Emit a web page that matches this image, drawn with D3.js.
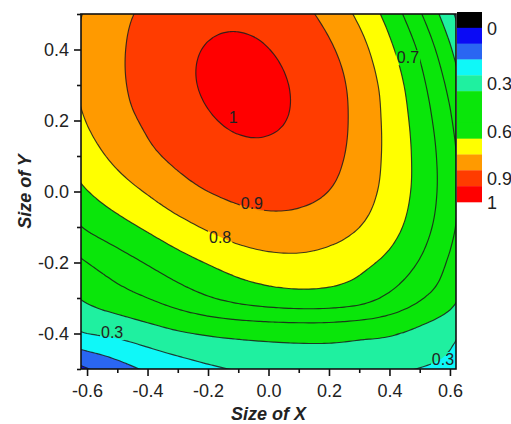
<!DOCTYPE html>
<html><head><meta charset="utf-8">
<script src="https://cdn.jsdelivr.net/npm/d3@7"></script>
<style>body{margin:0;background:#fff}svg{display:block}</style>
</head><body>
<svg id="chart" width="511" height="424"></svg>
<script>
// ---- data ----
const xValues = [-0.7,-0.6,-0.5,-0.4,-0.3,-0.2,-0.1,0.0,0.1,0.2,0.3,0.4,0.5,0.6,0.7];
const yValues = [0.6,0.5,0.4,0.3,0.2,0.1,0.0,-0.1,-0.2,-0.3,-0.4,-0.5,-0.6];
const zRows = [
  [0.705,0.775,0.835,0.883,0.918,0.936,0.936,0.915,0.872,0.802,0.706,0.579,0.421,0.228,-0.002],
  [0.742,0.811,0.871,0.921,0.958,0.979,0.983,0.968,0.930,0.867,0.779,0.661,0.512,0.330,0.112],
  [0.759,0.828,0.884,0.940,0.979,1.004,1.012,1.001,0.969,0.914,0.833,0.720,0.585,0.413,0.207],
  [0.758,0.826,0.882,0.939,0.981,1.008,1.021,1.015,0.989,0.941,0.862,0.758,0.630,0.473,0.283],
  [0.736,0.804,0.865,0.915,0.962,0.993,1.010,1.009,0.989,0.944,0.870,0.771,0.656,0.513,0.334],
  [0.694,0.761,0.823,0.878,0.923,0.958,0.978,0.982,0.968,0.930,0.865,0.774,0.669,0.537,0.369],
  [0.631,0.697,0.755,0.808,0.860,0.900,0.925,0.935,0.927,0.899,0.845,0.766,0.668,0.543,0.387],
  [0.546,0.611,0.664,0.715,0.767,0.812,0.848,0.865,0.863,0.842,0.801,0.736,0.645,0.527,0.379],
  [0.440,0.500,0.555,0.608,0.660,0.706,0.744,0.768,0.774,0.760,0.727,0.673,0.593,0.485,0.349],
  [0.365,0.415,0.458,0.500,0.547,0.592,0.628,0.652,0.664,0.660,0.636,0.580,0.510,0.435,0.310],
  [0.260,0.300,0.322,0.355,0.388,0.410,0.424,0.432,0.436,0.435,0.424,0.410,0.375,0.325,0.255],
  [0.030,0.095,0.160,0.213,0.251,0.283,0.307,0.323,0.333,0.335,0.330,0.317,0.297,0.270,0.235],
  [-0.120,-0.050,0.020,0.075,0.115,0.150,0.175,0.190,0.200,0.200,0.195,0.185,0.165,0.140,0.110]
];
const levels = [0,0.1,0.2,0.3,0.4,0.5,0.6,0.7,0.8,0.9,1.0];
// colour of each band: below 0, [0,0.1), ..., [0.9,1.0), >=1.0
const bandColors = ["#000000","#0a0af5","#2a66f2","#0ff8f8","#1ff0a0","#0ae60a","#0ae60a","#0ae60a","#ffff00","#ff9a00","#ff3c00","#ff0000"];
const colorbarBandStart = [-0.1,0,0.1,0.2,0.3,0.4,0.5,0.6,0.7,0.8,0.9,1.0];
const colorbarLabelText = ["0","0.3","0.6","0.9","1"];
const colorbarLabelValue = [0,0.3,0.6,0.9,1];
const xTicks = [-0.6,-0.4,-0.2,0.0,0.2,0.4,0.6];
const xMinorTicks = [-0.5,-0.3,-0.1,0.1,0.3,0.5];
const yTicks = [-0.4,-0.2,0.0,0.2,0.4];
const yMinorTicks = [-0.5,-0.3,-0.1,0.1,0.3,0.5];
const contourLabelText = ["1","0.9","0.8","0.7","0.3","0.3"];
const contourLabelX = [-0.117,-0.055,-0.160,0.461,-0.517,0.577];
const contourLabelY = [0.210,-0.033,-0.129,0.377,-0.397,-0.473];

// ---- layout ----
const svg = d3.select("#chart");
const x = d3.scaleLinear().domain([-0.62,0.62]).range([81,456]);
const y = d3.scaleLinear().domain([-0.5,0.5]).range([369,14]);
const nx = xValues.length, ny = yValues.length;

// smooth rendering: bicubic resampling of the data grid (drawing only)
const R = 6;
const fnx = (nx-1)*R+1, fny = (ny-1)*R+1;
function cub(p0,p1,p2,p3,t){ return p1 + 0.5*t*(p2-p0 + t*(2*p0-5*p1+4*p2-p3 + t*(3*(p1-p2)+p3-p0))); }
function at(r,c){ r=Math.max(0,Math.min(ny-1,r)); c=Math.max(0,Math.min(nx-1,c)); return zRows[r][c]; }
function rowVal(r,i,t){ return cub(at(r,i-1),at(r,i),at(r,i+1),at(r,i+2),t); }
const fine = new Array(fnx*fny);
for (let j=0;j<fny;j++){
  let jr = j/R, jj = Math.min(Math.floor(jr), ny-2), ty = jr-jj;
  for (let i=0;i<fnx;i++){
    let ir = i/R, ii = Math.min(Math.floor(ir), nx-2), tx = ir-ii;
    fine[j*fnx+i] = cub(rowVal(jj-1,ii,tx),rowVal(jj,ii,tx),rowVal(jj+1,ii,tx),rowVal(jj+2,ii,tx),ty);
  }
}
const gx = d3.scaleLinear().domain([0.5,fnx-0.5]).range([x(xValues[0]),x(xValues[nx-1])]);
const gy = d3.scaleLinear().domain([0.5,fny-0.5]).range([y(yValues[0]),y(yValues[ny-1])]);

const defs = svg.append("defs");
defs.append("clipPath").attr("id","plotClip").append("rect")
  .attr("x",x(-0.62)).attr("y",y(0.5)).attr("width",x(0.62)-x(-0.62)).attr("height",y(-0.5)-y(0.5));

const contours = d3.contours().size([fnx,fny]).thresholds(levels)(fine);
const line = d3.line().curve(d3.curveCatmullRomClosed.alpha(0.5));
function pathOf(c){
  return c.coordinates.map(poly => poly.map(ring => line(ring.slice(0,-1).map(p => [gx(p[0]),gy(p[1])]))).join("")).join("");
}

const plot = svg.append("g").attr("clip-path","url(#plotClip)");
plot.append("rect").attr("x",0).attr("y",0).attr("width",511).attr("height",424).attr("fill",bandColors[0]);
plot.selectAll("path.band").data(contours).join("path").attr("class","band")
  .attr("d",pathOf).attr("fill",(d,i)=>bandColors[i+1]).attr("fill-rule","evenodd");

// mask to break lines under labels
const mask = defs.append("mask").attr("id","lineMask").attr("maskUnits","userSpaceOnUse")
  .attr("x",0).attr("y",0).attr("width",511).attr("height",424);
mask.append("rect").attr("x",0).attr("y",0).attr("width",511).attr("height",424).attr("fill","#fff");

const lineG = plot.append("g").attr("mask","url(#lineMask)");
lineG.selectAll("path").data(contours.slice(1)).join("path")
  .attr("d",pathOf).attr("fill","none").attr("stroke","#1c1c1c").attr("stroke-opacity",0.85).attr("stroke-width",1.15);

const labG = svg.append("g").attr("font-family","Liberation Sans, Arial, sans-serif").attr("font-size",16).attr("fill","#222");
contourLabelText.forEach((t,i)=>{
  const tx = labG.append("text").attr("x",x(contourLabelX[i])).attr("y",y(contourLabelY[i])).attr("dy","0.35em")
    .attr("text-anchor","middle").text(t);
  const b = tx.node().getBBox();
  mask.append("rect").attr("x",b.x-1).attr("y",b.y+1).attr("width",b.width+2).attr("height",b.height-2).attr("fill","#000");
});

// frame
svg.append("rect").attr("x",x(-0.62)).attr("y",y(0.5)).attr("width",x(0.62)-x(-0.62)).attr("height",y(-0.5)-y(0.5))
  .attr("fill","none").attr("stroke","#111").attr("stroke-width",1.6);

// axes
const font = "Liberation Sans, Arial, sans-serif";
function styleAxis(g){
  g.select(".domain").remove();
  g.selectAll("line").attr("stroke","#111").attr("stroke-width",1.6);
  g.selectAll("text").attr("font-family",font).attr("font-size",18).attr("fill","#222");
}
svg.append("g").attr("transform",`translate(0,${y(-0.5)})`)
  .call(d3.axisBottom(x).tickValues(xTicks).tickSize(7).tickPadding(8).tickFormat(d=>d.toFixed(1))).call(styleAxis);
svg.append("g").attr("transform",`translate(0,${y(-0.5)})`)
  .call(d3.axisBottom(x).tickValues(xMinorTicks).tickSize(4).tickFormat("")).call(styleAxis);
svg.append("g").attr("transform",`translate(${x(-0.62)},0)`)
  .call(d3.axisLeft(y).tickValues(yTicks).tickSize(7).tickPadding(5).tickFormat(d=>d.toFixed(1))).call(styleAxis);
svg.append("g").attr("transform",`translate(${x(-0.62)},0)`)
  .call(d3.axisLeft(y).tickValues(yMinorTicks).tickSize(4).tickFormat("")).call(styleAxis);

svg.append("text").attr("x",(x(-0.62)+x(0.62))/2).attr("y",420).attr("text-anchor","middle")
  .attr("font-family",font).attr("font-size",18).attr("font-weight","bold").attr("font-style","italic").attr("fill","#222").text("Size of X");
svg.append("text").attr("transform",`translate(31,${(y(0.5)+y(-0.5))/2}) rotate(-90)`).attr("text-anchor","middle")
  .attr("font-family",font).attr("font-size",18).attr("font-weight","bold").attr("font-style","italic").attr("fill","#222").text("Size of Y");

// colour bar
const cb = d3.scaleLinear().domain([-0.1,1.1]).range([12,202]);
const cbLab = d3.scaleLinear().domain([0,0.3,0.6,0.9,1]).range([29,84,132,179,203]);
svg.append("g").selectAll("rect").data(colorbarBandStart).join("rect")
  .attr("x",457).attr("width",25).attr("y",d=>cb(d)).attr("height",d=>cb(d+0.1)-cb(d)+0.3)
  .attr("fill",(d,i)=>bandColors[i]);
svg.append("g").selectAll("text").data(colorbarLabelText).join("text")
  .attr("x",487).attr("y",(d,i)=>cbLab(colorbarLabelValue[i])).attr("dy","0.35em")
  .attr("font-family",font).attr("font-size",18).attr("fill","#222").text(d=>d);
</script>
</body></html>
